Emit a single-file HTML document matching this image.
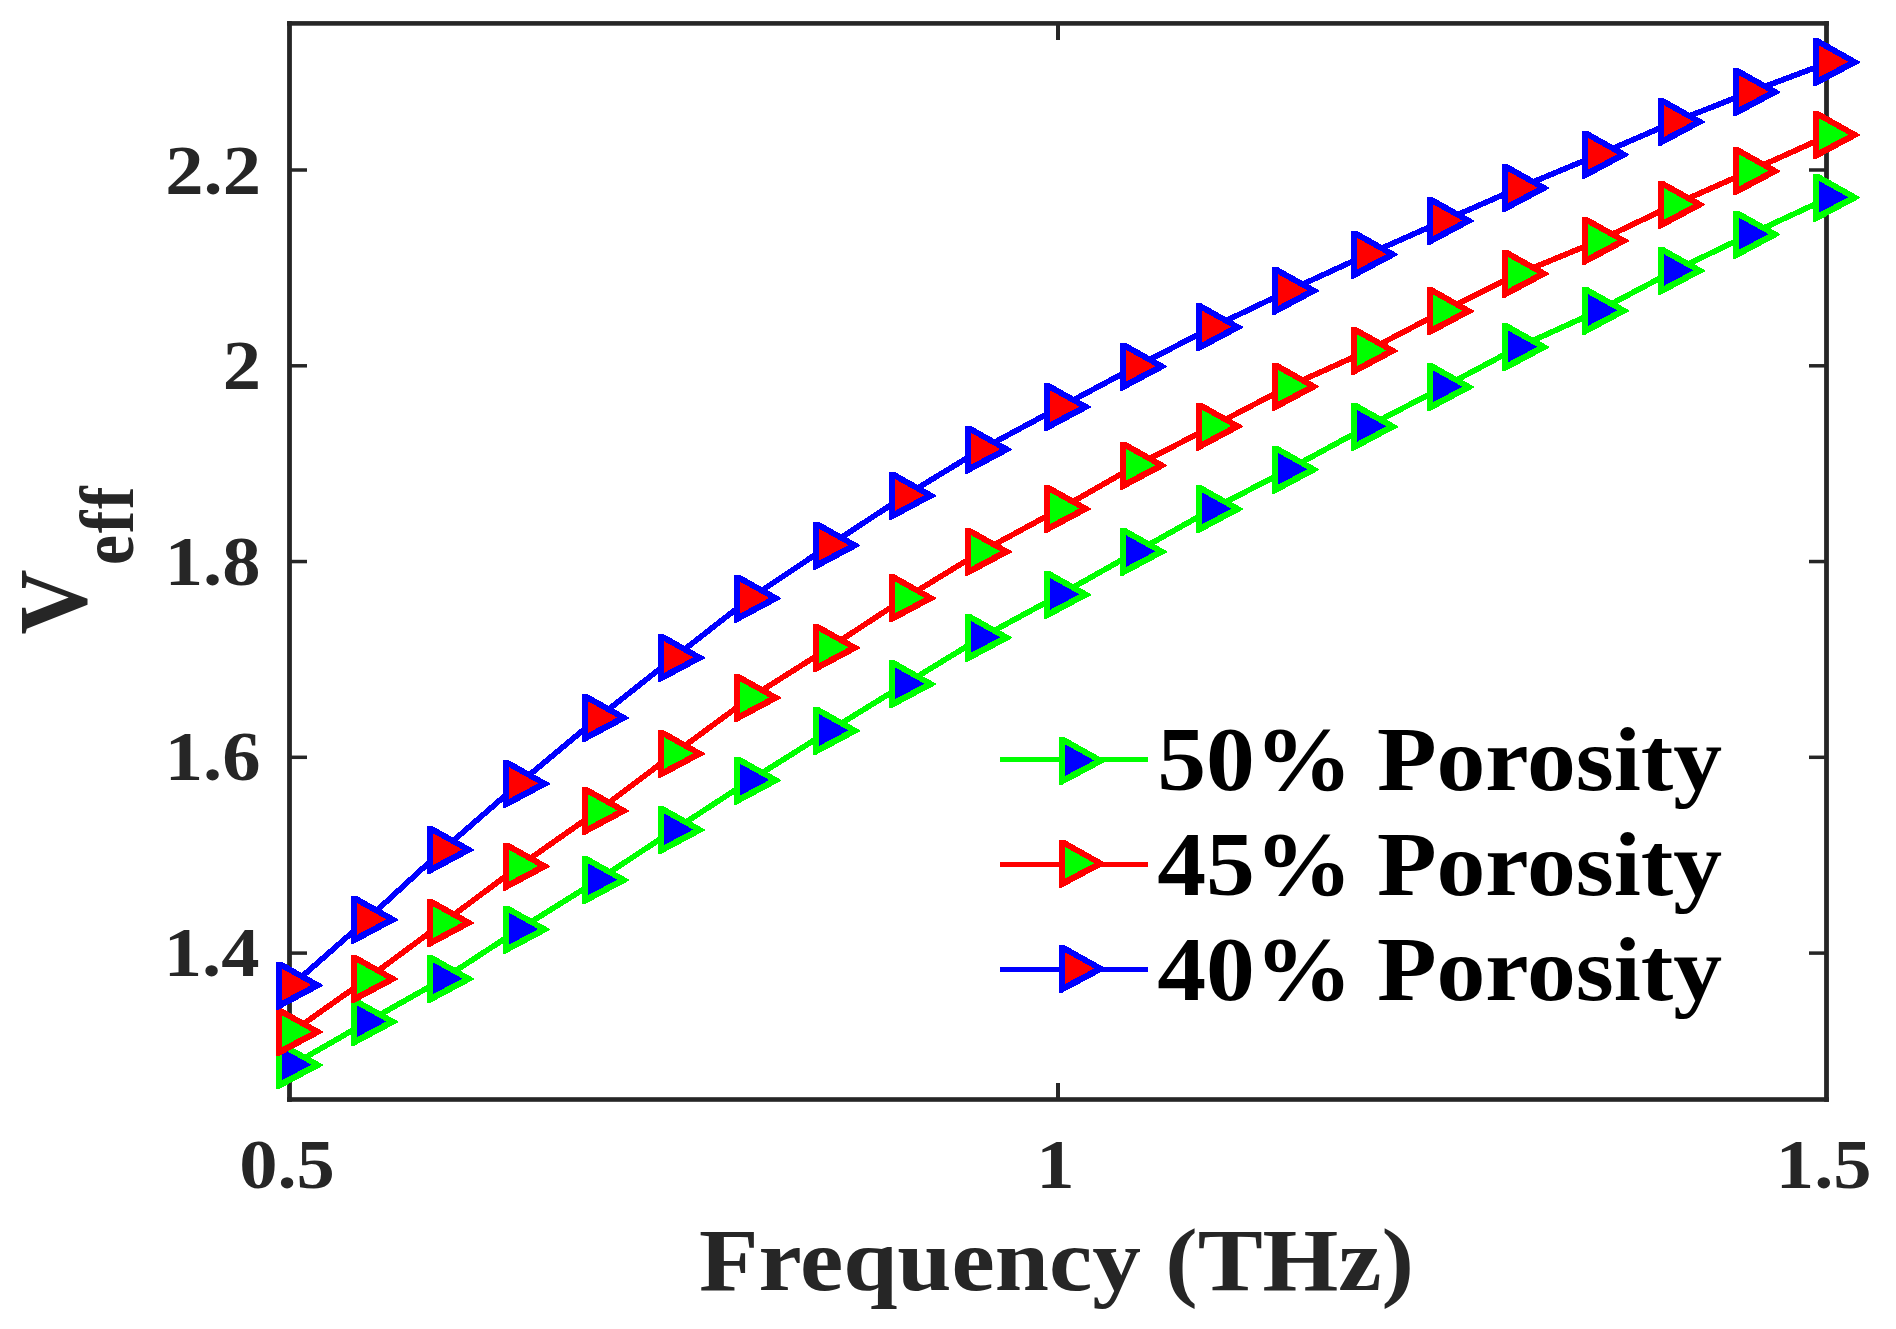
<!DOCTYPE html>
<html lang="en">
<head>
<meta charset="utf-8">
<title>V_eff vs Frequency</title>
<style>
html,body{margin:0;padding:0;background:#fff;}
body{width:1896px;height:1329px;overflow:hidden;}
svg{display:block;}
text{font-family:"Liberation Serif","Times New Roman",Times,serif;font-weight:bold;}
.tk{fill:#262626;font-size:69px;}
.lg{fill:#000;font-size:90px;}
.xl{fill:#262626;font-size:88px;}
</style>
</head>
<body>
<svg width="1896" height="1329" viewBox="0 0 1896 1329">
<rect x="0" y="0" width="1896" height="1329" fill="#ffffff"/>

<g fill="#262626">
<rect x="287.1" y="21.1" width="4.8" height="1080.7"/>
<rect x="1824.1" y="21.1" width="4.8" height="1080.7"/>
<rect x="287.1" y="21.1" width="1541.8" height="4.6"/>
<rect x="287.1" y="1097.2" width="1541.8" height="4.6"/>
<rect x="291" y="168.25" width="16" height="3.5"/>
<rect x="1809" y="168.25" width="16" height="3.5"/>
<rect x="291" y="364.05" width="16" height="3.5"/>
<rect x="1809" y="364.05" width="16" height="3.5"/>
<rect x="291" y="559.8" width="16" height="3.5"/>
<rect x="1809" y="559.8" width="16" height="3.5"/>
<rect x="291" y="755.55" width="16" height="3.5"/>
<rect x="1809" y="755.55" width="16" height="3.5"/>
<rect x="291" y="951.35" width="16" height="3.5"/>
<rect x="1809" y="951.35" width="16" height="3.5"/>
<rect x="1056" y="1083" width="4" height="15"/>
<rect x="1056" y="25" width="4" height="15"/>
</g>
<g shape-rendering="crispEdges">
<polyline points="291.1,1065.7 366.1,1022.5 442.1,979.6 518,930.1 597.1,880.7 673,830.6 749.1,781 828.2,731.4 904.1,684.7 980,638.3 1059.1,595.3 1135.1,552.4 1211.1,509.7 1287.1,470.2 1366.1,427.3 1442.1,387.7 1517.2,347.8 1597.1,311.4 1673,271.35 1748.3,235.1 1828.1,198.2" fill="none" stroke="#00ff00" stroke-width="5.7" stroke-linejoin="round"/>
<polygon points="276.1,1041.2 281.5,1041.2 323.1,1064.6 323.1,1065.6 278.8,1089.2 276.1,1089.2" fill="#00ff00"/><polygon points="281.6,1048.2 311.3,1064.7 281.6,1080.4" fill="#0000ff"/>
<polygon points="351.1,998 356.5,998 398.1,1021.4 398.1,1022.4 353.8,1046 351.1,1046" fill="#00ff00"/><polygon points="356.6,1005 386.3,1021.5 356.6,1037.2" fill="#0000ff"/>
<polygon points="427.1,955.1 432.5,955.1 474.1,978.5 474.1,979.5 429.8,1003.1 427.1,1003.1" fill="#00ff00"/><polygon points="432.6,962.1 462.3,978.6 432.6,994.3" fill="#0000ff"/>
<polygon points="503,905.6 508.4,905.6 550,929 550,930 505.7,953.6 503,953.6" fill="#00ff00"/><polygon points="508.5,912.6 538.2,929.1 508.5,944.8" fill="#0000ff"/>
<polygon points="582.1,856.2 587.5,856.2 629.1,879.6 629.1,880.6 584.8,904.2 582.1,904.2" fill="#00ff00"/><polygon points="587.6,863.2 617.3,879.7 587.6,895.4" fill="#0000ff"/>
<polygon points="658,806.1 663.4,806.1 705,829.5 705,830.5 660.7,854.1 658,854.1" fill="#00ff00"/><polygon points="663.5,813.1 693.2,829.6 663.5,845.3" fill="#0000ff"/>
<polygon points="734.1,756.5 739.5,756.5 781.1,779.9 781.1,780.9 736.8,804.5 734.1,804.5" fill="#00ff00"/><polygon points="739.6,763.5 769.3,780 739.6,795.7" fill="#0000ff"/>
<polygon points="813.2,706.9 818.6,706.9 860.2,730.3 860.2,731.3 815.9,754.9 813.2,754.9" fill="#00ff00"/><polygon points="818.7,713.9 848.4,730.4 818.7,746.1" fill="#0000ff"/>
<polygon points="889.1,660.2 894.5,660.2 936.1,683.6 936.1,684.6 891.8,708.2 889.1,708.2" fill="#00ff00"/><polygon points="894.6,667.2 924.3,683.7 894.6,699.4" fill="#0000ff"/>
<polygon points="965,613.8 970.4,613.8 1012,637.2 1012,638.2 967.7,661.8 965,661.8" fill="#00ff00"/><polygon points="970.5,620.8 1000.2,637.3 970.5,653" fill="#0000ff"/>
<polygon points="1044.1,570.8 1049.5,570.8 1091.1,594.2 1091.1,595.2 1046.8,618.8 1044.1,618.8" fill="#00ff00"/><polygon points="1049.6,577.8 1079.3,594.3 1049.6,610" fill="#0000ff"/>
<polygon points="1120.1,527.9 1125.5,527.9 1167.1,551.3 1167.1,552.3 1122.8,575.9 1120.1,575.9" fill="#00ff00"/><polygon points="1125.6,534.9 1155.3,551.4 1125.6,567.1" fill="#0000ff"/>
<polygon points="1196.1,485.2 1201.5,485.2 1243.1,508.6 1243.1,509.6 1198.8,533.2 1196.1,533.2" fill="#00ff00"/><polygon points="1201.6,492.2 1231.3,508.7 1201.6,524.4" fill="#0000ff"/>
<polygon points="1272.1,445.7 1277.5,445.7 1319.1,469.1 1319.1,470.1 1274.8,493.7 1272.1,493.7" fill="#00ff00"/><polygon points="1277.6,452.7 1307.3,469.2 1277.6,484.9" fill="#0000ff"/>
<polygon points="1351.1,402.8 1356.5,402.8 1398.1,426.2 1398.1,427.2 1353.8,450.8 1351.1,450.8" fill="#00ff00"/><polygon points="1356.6,409.8 1386.3,426.3 1356.6,442" fill="#0000ff"/>
<polygon points="1427.1,363.2 1432.5,363.2 1474.1,386.6 1474.1,387.6 1429.8,411.2 1427.1,411.2" fill="#00ff00"/><polygon points="1432.6,370.2 1462.3,386.7 1432.6,402.4" fill="#0000ff"/>
<polygon points="1502.2,323.3 1507.6,323.3 1549.2,346.7 1549.2,347.7 1504.9,371.3 1502.2,371.3" fill="#00ff00"/><polygon points="1507.7,330.3 1537.4,346.8 1507.7,362.5" fill="#0000ff"/>
<polygon points="1582.1,286.9 1587.5,286.9 1629.1,310.3 1629.1,311.3 1584.8,334.9 1582.1,334.9" fill="#00ff00"/><polygon points="1587.6,293.9 1617.3,310.4 1587.6,326.1" fill="#0000ff"/>
<polygon points="1658,246.85 1663.4,246.85 1705,270.25 1705,271.25 1660.7,294.85 1658,294.85" fill="#00ff00"/><polygon points="1663.5,253.85 1693.2,270.35 1663.5,286.05" fill="#0000ff"/>
<polygon points="1733.3,210.6 1738.7,210.6 1780.3,234 1780.3,235 1736,258.6 1733.3,258.6" fill="#00ff00"/><polygon points="1738.8,217.6 1768.5,234.1 1738.8,249.8" fill="#0000ff"/>
<polygon points="1813.1,173.7 1818.5,173.7 1860.1,197.1 1860.1,198.1 1815.8,221.7 1813.1,221.7" fill="#00ff00"/><polygon points="1818.6,180.7 1848.3,197.2 1818.6,212.9" fill="#0000ff"/>
<polyline points="291.1,1032.6 366.1,979.6 442.1,923.5 518,867 597.1,811.5 673,754.4 749.1,698.5 828.2,648.5 904.1,598.8 980,552.4 1059.1,509.5 1135.1,466.1 1211.1,427 1287.1,387.2 1366.1,351.5 1442.1,311.8 1517.2,274.35 1597.1,241.45 1673,205.25 1748.3,171.8 1828.1,135.6" fill="none" stroke="#ff0000" stroke-width="5.7" stroke-linejoin="round"/>
<polygon points="276.1,1008.1 281.5,1008.1 323.1,1031.5 323.1,1032.5 278.8,1056.1 276.1,1056.1" fill="#ff0000"/><polygon points="281.6,1015.1 311.3,1031.6 281.6,1047.3" fill="#00ff00"/>
<polygon points="351.1,955.1 356.5,955.1 398.1,978.5 398.1,979.5 353.8,1003.1 351.1,1003.1" fill="#ff0000"/><polygon points="356.6,962.1 386.3,978.6 356.6,994.3" fill="#00ff00"/>
<polygon points="427.1,899 432.5,899 474.1,922.4 474.1,923.4 429.8,947 427.1,947" fill="#ff0000"/><polygon points="432.6,906 462.3,922.5 432.6,938.2" fill="#00ff00"/>
<polygon points="503,842.5 508.4,842.5 550,865.9 550,866.9 505.7,890.5 503,890.5" fill="#ff0000"/><polygon points="508.5,849.5 538.2,866 508.5,881.7" fill="#00ff00"/>
<polygon points="582.1,787 587.5,787 629.1,810.4 629.1,811.4 584.8,835 582.1,835" fill="#ff0000"/><polygon points="587.6,794 617.3,810.5 587.6,826.2" fill="#00ff00"/>
<polygon points="658,729.9 663.4,729.9 705,753.3 705,754.3 660.7,777.9 658,777.9" fill="#ff0000"/><polygon points="663.5,736.9 693.2,753.4 663.5,769.1" fill="#00ff00"/>
<polygon points="734.1,674 739.5,674 781.1,697.4 781.1,698.4 736.8,722 734.1,722" fill="#ff0000"/><polygon points="739.6,681 769.3,697.5 739.6,713.2" fill="#00ff00"/>
<polygon points="813.2,624 818.6,624 860.2,647.4 860.2,648.4 815.9,672 813.2,672" fill="#ff0000"/><polygon points="818.7,631 848.4,647.5 818.7,663.2" fill="#00ff00"/>
<polygon points="889.1,574.3 894.5,574.3 936.1,597.7 936.1,598.7 891.8,622.3 889.1,622.3" fill="#ff0000"/><polygon points="894.6,581.3 924.3,597.8 894.6,613.5" fill="#00ff00"/>
<polygon points="965,527.9 970.4,527.9 1012,551.3 1012,552.3 967.7,575.9 965,575.9" fill="#ff0000"/><polygon points="970.5,534.9 1000.2,551.4 970.5,567.1" fill="#00ff00"/>
<polygon points="1044.1,485 1049.5,485 1091.1,508.4 1091.1,509.4 1046.8,533 1044.1,533" fill="#ff0000"/><polygon points="1049.6,492 1079.3,508.5 1049.6,524.2" fill="#00ff00"/>
<polygon points="1120.1,441.6 1125.5,441.6 1167.1,465 1167.1,466 1122.8,489.6 1120.1,489.6" fill="#ff0000"/><polygon points="1125.6,448.6 1155.3,465.1 1125.6,480.8" fill="#00ff00"/>
<polygon points="1196.1,402.5 1201.5,402.5 1243.1,425.9 1243.1,426.9 1198.8,450.5 1196.1,450.5" fill="#ff0000"/><polygon points="1201.6,409.5 1231.3,426 1201.6,441.7" fill="#00ff00"/>
<polygon points="1272.1,362.7 1277.5,362.7 1319.1,386.1 1319.1,387.1 1274.8,410.7 1272.1,410.7" fill="#ff0000"/><polygon points="1277.6,369.7 1307.3,386.2 1277.6,401.9" fill="#00ff00"/>
<polygon points="1351.1,327 1356.5,327 1398.1,350.4 1398.1,351.4 1353.8,375 1351.1,375" fill="#ff0000"/><polygon points="1356.6,334 1386.3,350.5 1356.6,366.2" fill="#00ff00"/>
<polygon points="1427.1,287.3 1432.5,287.3 1474.1,310.7 1474.1,311.7 1429.8,335.3 1427.1,335.3" fill="#ff0000"/><polygon points="1432.6,294.3 1462.3,310.8 1432.6,326.5" fill="#00ff00"/>
<polygon points="1502.2,249.85 1507.6,249.85 1549.2,273.25 1549.2,274.25 1504.9,297.85 1502.2,297.85" fill="#ff0000"/><polygon points="1507.7,256.85 1537.4,273.35 1507.7,289.05" fill="#00ff00"/>
<polygon points="1582.1,216.95 1587.5,216.95 1629.1,240.35 1629.1,241.35 1584.8,264.95 1582.1,264.95" fill="#ff0000"/><polygon points="1587.6,223.95 1617.3,240.45 1587.6,256.15" fill="#00ff00"/>
<polygon points="1658,180.75 1663.4,180.75 1705,204.15 1705,205.15 1660.7,228.75 1658,228.75" fill="#ff0000"/><polygon points="1663.5,187.75 1693.2,204.25 1663.5,219.95" fill="#00ff00"/>
<polygon points="1733.3,147.3 1738.7,147.3 1780.3,170.7 1780.3,171.7 1736,195.3 1733.3,195.3" fill="#ff0000"/><polygon points="1738.8,154.3 1768.5,170.8 1738.8,186.5" fill="#00ff00"/>
<polygon points="1813.1,111.1 1818.5,111.1 1860.1,134.5 1860.1,135.5 1815.8,159.1 1813.1,159.1" fill="#ff0000"/><polygon points="1818.6,118.1 1848.3,134.6 1818.6,150.3" fill="#00ff00"/>
<polyline points="291.1,986 366.1,920.3 442.1,850.5 518,784.4 597.1,718.5 673,658.4 749.1,599 828.2,546.1 904.1,496.3 980,450.1 1059.1,407.6 1135.1,367.1 1211.1,327.9 1287.1,291.4 1366.1,255.1 1442.1,221.5 1517.2,188.65 1597.1,155.25 1673,122.45 1748.3,92.7 1828.1,62.8" fill="none" stroke="#0000ff" stroke-width="5.7" stroke-linejoin="round"/>
<polygon points="276.1,961.5 281.5,961.5 323.1,984.9 323.1,985.9 278.8,1009.5 276.1,1009.5" fill="#0000ff"/><polygon points="281.6,968.5 311.3,985 281.6,1000.7" fill="#ff0000"/>
<polygon points="351.1,895.8 356.5,895.8 398.1,919.2 398.1,920.2 353.8,943.8 351.1,943.8" fill="#0000ff"/><polygon points="356.6,902.8 386.3,919.3 356.6,935" fill="#ff0000"/>
<polygon points="427.1,826 432.5,826 474.1,849.4 474.1,850.4 429.8,874 427.1,874" fill="#0000ff"/><polygon points="432.6,833 462.3,849.5 432.6,865.2" fill="#ff0000"/>
<polygon points="503,759.9 508.4,759.9 550,783.3 550,784.3 505.7,807.9 503,807.9" fill="#0000ff"/><polygon points="508.5,766.9 538.2,783.4 508.5,799.1" fill="#ff0000"/>
<polygon points="582.1,694 587.5,694 629.1,717.4 629.1,718.4 584.8,742 582.1,742" fill="#0000ff"/><polygon points="587.6,701 617.3,717.5 587.6,733.2" fill="#ff0000"/>
<polygon points="658,633.9 663.4,633.9 705,657.3 705,658.3 660.7,681.9 658,681.9" fill="#0000ff"/><polygon points="663.5,640.9 693.2,657.4 663.5,673.1" fill="#ff0000"/>
<polygon points="734.1,574.5 739.5,574.5 781.1,597.9 781.1,598.9 736.8,622.5 734.1,622.5" fill="#0000ff"/><polygon points="739.6,581.5 769.3,598 739.6,613.7" fill="#ff0000"/>
<polygon points="813.2,521.6 818.6,521.6 860.2,545 860.2,546 815.9,569.6 813.2,569.6" fill="#0000ff"/><polygon points="818.7,528.6 848.4,545.1 818.7,560.8" fill="#ff0000"/>
<polygon points="889.1,471.8 894.5,471.8 936.1,495.2 936.1,496.2 891.8,519.8 889.1,519.8" fill="#0000ff"/><polygon points="894.6,478.8 924.3,495.3 894.6,511" fill="#ff0000"/>
<polygon points="965,425.6 970.4,425.6 1012,449 1012,450 967.7,473.6 965,473.6" fill="#0000ff"/><polygon points="970.5,432.6 1000.2,449.1 970.5,464.8" fill="#ff0000"/>
<polygon points="1044.1,383.1 1049.5,383.1 1091.1,406.5 1091.1,407.5 1046.8,431.1 1044.1,431.1" fill="#0000ff"/><polygon points="1049.6,390.1 1079.3,406.6 1049.6,422.3" fill="#ff0000"/>
<polygon points="1120.1,342.6 1125.5,342.6 1167.1,366 1167.1,367 1122.8,390.6 1120.1,390.6" fill="#0000ff"/><polygon points="1125.6,349.6 1155.3,366.1 1125.6,381.8" fill="#ff0000"/>
<polygon points="1196.1,303.4 1201.5,303.4 1243.1,326.8 1243.1,327.8 1198.8,351.4 1196.1,351.4" fill="#0000ff"/><polygon points="1201.6,310.4 1231.3,326.9 1201.6,342.6" fill="#ff0000"/>
<polygon points="1272.1,266.9 1277.5,266.9 1319.1,290.3 1319.1,291.3 1274.8,314.9 1272.1,314.9" fill="#0000ff"/><polygon points="1277.6,273.9 1307.3,290.4 1277.6,306.1" fill="#ff0000"/>
<polygon points="1351.1,230.6 1356.5,230.6 1398.1,254 1398.1,255 1353.8,278.6 1351.1,278.6" fill="#0000ff"/><polygon points="1356.6,237.6 1386.3,254.1 1356.6,269.8" fill="#ff0000"/>
<polygon points="1427.1,197 1432.5,197 1474.1,220.4 1474.1,221.4 1429.8,245 1427.1,245" fill="#0000ff"/><polygon points="1432.6,204 1462.3,220.5 1432.6,236.2" fill="#ff0000"/>
<polygon points="1502.2,164.15 1507.6,164.15 1549.2,187.55 1549.2,188.55 1504.9,212.15 1502.2,212.15" fill="#0000ff"/><polygon points="1507.7,171.15 1537.4,187.65 1507.7,203.35" fill="#ff0000"/>
<polygon points="1582.1,130.75 1587.5,130.75 1629.1,154.15 1629.1,155.15 1584.8,178.75 1582.1,178.75" fill="#0000ff"/><polygon points="1587.6,137.75 1617.3,154.25 1587.6,169.95" fill="#ff0000"/>
<polygon points="1658,97.95 1663.4,97.95 1705,121.35 1705,122.35 1660.7,145.95 1658,145.95" fill="#0000ff"/><polygon points="1663.5,104.95 1693.2,121.45 1663.5,137.15" fill="#ff0000"/>
<polygon points="1733.3,68.2 1738.7,68.2 1780.3,91.6 1780.3,92.6 1736,116.2 1733.3,116.2" fill="#0000ff"/><polygon points="1738.8,75.2 1768.5,91.7 1738.8,107.4" fill="#ff0000"/>
<polygon points="1813.1,38.3 1818.5,38.3 1860.1,61.7 1860.1,62.7 1815.8,86.3 1813.1,86.3" fill="#0000ff"/><polygon points="1818.6,45.3 1848.3,61.8 1818.6,77.5" fill="#ff0000"/>
<rect x="1000" y="757" width="148" height="5" fill="#00ff00"/>
<polygon points="1059,737 1064.4,737 1106,760.4 1106,761.4 1061.7,785 1059,785" fill="#00ff00"/><polygon points="1064.5,744 1094.2,760.5 1064.5,776.2" fill="#0000ff"/>
<rect x="1000" y="862.1" width="148" height="5" fill="#ff0000"/>
<polygon points="1059,839.7 1064.4,839.7 1106,863.1 1106,864.1 1061.7,887.7 1059,887.7" fill="#ff0000"/><polygon points="1064.5,846.7 1094.2,863.2 1064.5,878.9" fill="#00ff00"/>
<rect x="1000" y="967" width="148" height="5" fill="#0000ff"/>
<polygon points="1059,945 1064.4,945 1106,968.4 1106,969.4 1061.7,993 1059,993" fill="#0000ff"/><polygon points="1064.5,952 1094.2,968.5 1064.5,984.2" fill="#ff0000"/>
</g>
<text class="tk" transform="translate(261,193.8) scale(1.11,1)" text-anchor="end">2.2</text>
<text class="tk" transform="translate(261,388.8) scale(1.11,1)" text-anchor="end">2</text>
<text class="tk" transform="translate(260.5,584.55) scale(1.11,1)" text-anchor="end">1.8</text>
<text class="tk" transform="translate(260.5,780.3) scale(1.11,1)" text-anchor="end">1.6</text>
<text class="tk" transform="translate(259.5,976.1) scale(1.11,1)" text-anchor="end">1.4</text>
<text class="tk" transform="translate(287,1187.5) scale(1.11,1)" text-anchor="middle">0.5</text>
<text class="tk" transform="translate(1055.5,1187.5) scale(1.11,1)" text-anchor="middle">1</text>
<text class="tk" transform="translate(1823.7,1187.5) scale(1.11,1)" text-anchor="middle">1.5</text>
<text class="xl" transform="translate(1056.5,1289.5) scale(1.107,1)" text-anchor="middle">Frequency (THz)</text>
<text transform="translate(86,634.5) rotate(-90) scale(1,1.08)" fill="#262626" font-size="90">V</text>
<text transform="translate(132.6,565) rotate(-90) scale(1,1.112)" fill="#262626" font-size="67.5" letter-spacing="1.8">eff</text>
<text class="lg" transform="translate(1157.2,790.2) scale(1.085,1)">50% Porosity</text>
<text class="lg" transform="translate(1157.2,895.3) scale(1.085,1)">45% Porosity</text>
<text class="lg" transform="translate(1157.2,1000.2) scale(1.085,1)">40% Porosity</text>
</svg>
</body>
</html>
